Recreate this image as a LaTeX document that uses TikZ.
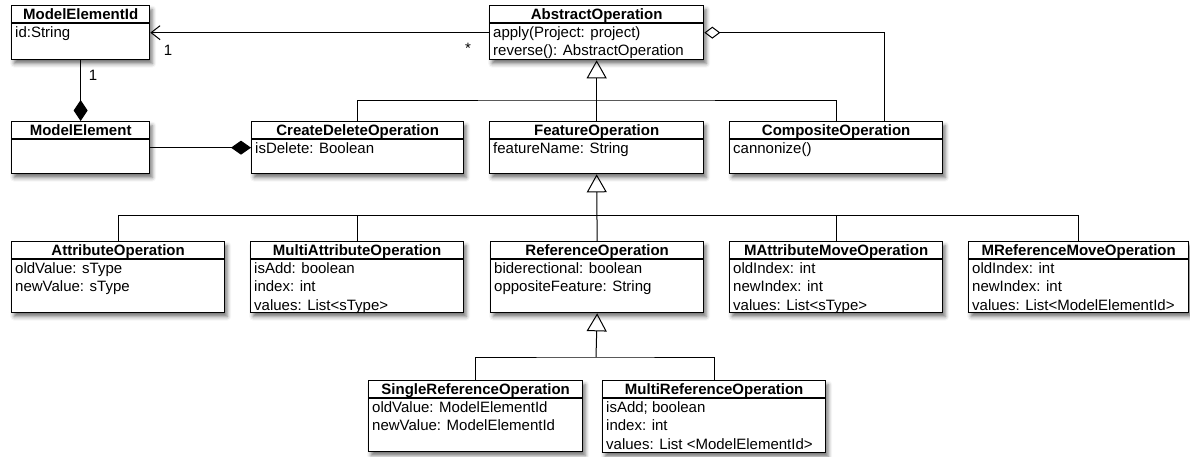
\documentclass[tikz,border=0pt]{standalone}
\usepackage{fontspec}
\setmainfont{Liberation Sans}
\usetikzlibrary{arrows.meta,shadows.blur}

% one class: name, x, y, width, height, title, attributes
\newcommand{\umlclass}[7]{%
  \node[classbox,minimum width=#4pt,minimum height=#5pt] (#1) at (#2,#3) {};
  \node[classname] (#1-name) at ([yshift=-14.5pt]#1.north) {#6};
  \draw[classline] ([yshift=-18pt]#1.north west) -- ([yshift=-18pt]#1.north east);
  \node[classattr] (#1-attr) at ([yshift=-18pt]#1.north west) {#7};
}

\begin{document}
\begin{tikzpicture}[x=1pt,y=-1pt,
    every node/.style={font=\fontsize{15}{18.5}\selectfont},
    classbox/.style={draw,line width=1.3pt,fill=white,anchor=north west,inner sep=0pt,
      blur shadow={shadow xshift=2.5pt,shadow yshift=-4pt,shadow blur radius=4pt,shadow opacity=55}},
    classname/.style={anchor=base,inner sep=0pt,font=\fontsize{15}{18.5}\selectfont\bfseries},
    classline/.style={line width=1.3pt},
    classattr/.style={anchor=north west,align=left,inner xsep=4pt,inner ysep=3pt},
    conn/.style={line width=1pt},
    gen/.style={conn,-{Triangle[open,length=18pt,width=20pt]}}]
\useasboundingbox (0,0) rectangle (1190,456);

\umlclass{meid}{11}{5}{138}{54}{ModelElementId}{id:String}
\umlclass{me}{11}{121}{138}{52}{ModelElement}{}
\umlclass{abs}{489}{5}{214}{54}{AbstractOperation}{apply(Project: project)\\reverse(): AbstractOperation}
\umlclass{cd}{251}{121}{212}{52}{CreateDeleteOperation}{isDelete: Boolean}
\umlclass{feat}{489}{121}{214}{52}{FeatureOperation}{featureName: String}
\umlclass{comp}{729}{121}{213}{52}{CompositeOperation}{cannonize()}

\umlclass{attr}{11}{241}{213}{71}{AttributeOperation}{oldValue: sType\\newValue: sType}
\umlclass{mattr}{250}{241}{213}{71}{MultiAttributeOperation}{isAdd: boolean\\index: int\\values: List<sType>}
\umlclass{ref}{490}{241}{213}{71}{ReferenceOperation}{biderectional: boolean\\oppositeFeature: String}
\umlclass{mattrmove}{729}{241}{213}{71}{MAttributeMoveOperation}{oldIndex: int\\newIndex: int\\values: List<sType>}
\umlclass{mrefmove}{968}{241}{220}{71}{MReferenceMoveOperation}{oldIndex: int\\newIndex: int\\values: List<ModelElementId>}

\umlclass{single}{368}{380}{214}{71}{SingleReferenceOperation}{oldValue: ModelElementId\\newValue: ModelElementId}
\umlclass{multiref}{602}{380}{223}{72}{MultiReferenceOperation}{isAdd; boolean\\index: int\\values: List <ModelElementId>}

% association and aggregation
\draw[conn,-{Straight Barb[length=9pt,width=14pt]}] (abs.west) -- (meid.east);
\node (one-a) at (168,50) {1};
\node (many-a) at (468,48) {*};
\draw[conn,-{Diamond[length=21pt,width=14pt]}] (meid.south) -- (me.north);
\node (one-b) at (93,75) {1};
\draw[conn,-{Diamond[length=20pt,width=14pt]}] (me.east) -- (cd.west);
\coordinate (agg) at (884,121);
\draw[conn,-{Diamond[open,length=16pt,width=12pt]}] (agg) |- (abs.east);

% inheritance
\coordinate (g1) at (596,100);
\draw[gen] (feat.north) -- (abs.south);
\draw[conn] (cd.north) |- (g1) -| (comp.north);

\coordinate (g2) at (596,215);
\draw[gen] (ref.north) -- (feat.south);
\foreach \c in {attr,mattr,mattrmove,mrefmove}
  \draw[conn] (\c.north) |- (g2);

\coordinate (g3) at (596,357);
\draw[gen] (g3) -- (ref.south);
\draw[conn] (single.north) |- (g3) -| (multiref.north);
\end{tikzpicture}
\end{document}
